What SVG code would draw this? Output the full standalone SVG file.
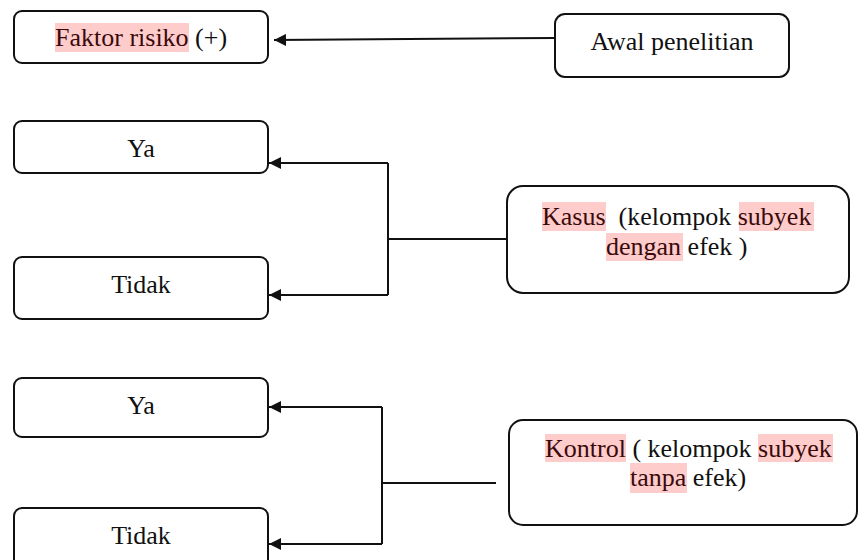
<svg xmlns="http://www.w3.org/2000/svg" width="858" height="560" viewBox="0 0 858 560">
<style>
  .box { fill: #fff; stroke: #111; stroke-width: 2; }
  text { font-family: 'Liberation Serif', Tinos, Times, 'DejaVu Serif', serif; font-size: 26px; fill: #111; }
  .mid { text-anchor: middle; }
  .hl { fill: #ffcccc; }
  .ht { fill: #3a0a0a; }
  .conn path { fill: none; stroke: #111; stroke-width: 2; }
</style>
<defs>
  <marker id="arr" markerUnits="userSpaceOnUse" markerWidth="13" markerHeight="12" refX="12" refY="6" orient="auto">
    <path d="M0,0 L12,6 L0,12 z" fill="#111"/>
  </marker>
</defs>

<g id="connectors" class="conn">
  <path d="M555,38 L274,40" marker-end="url(#arr)"/>
  <path d="M507,239 H388"/>
  <path d="M388,163 V295"/>
  <path d="M388,163 H269" marker-end="url(#arr)"/>
  <path d="M388,295 H269" marker-end="url(#arr)"/>
  <path d="M496,483 H382"/>
  <path d="M382,407 V544"/>
  <path d="M382,407 H269" marker-end="url(#arr)"/>
  <path d="M382,544 H269" marker-end="url(#arr)"/>
</g>

<g id="faktor">
  <rect class="box" x="14" y="11" width="254" height="52" rx="8"/>
  <rect class="hl" x="55" y="23" width="134" height="29"/>
  <text x="55" y="46"><tspan class="ht">Faktor risiko</tspan> (+)</text>
</g>

<g id="awal">
  <rect class="box" x="555" y="14" width="234" height="63" rx="10"/>
  <text class="mid" x="672" y="50">Awal penelitian</text>
</g>

<g id="ya1">
  <rect class="box" x="14" y="121" width="254" height="52" rx="8"/>
  <text class="mid" x="141" y="157">Ya</text>
</g>

<g id="tidak1">
  <rect class="box" x="14" y="257" width="254" height="62" rx="8"/>
  <text class="mid" x="141" y="293">Tidak</text>
</g>

<g id="kasus">
  <rect class="box" x="507" y="186" width="342" height="107" rx="16"/>
  <rect class="hl" x="542" y="202" width="64" height="29"/>
  <rect class="hl" x="739" y="202" width="75" height="29"/>
  <rect class="hl" x="606" y="233" width="77" height="28"/>
  <text x="542" y="225" xml:space="preserve"><tspan class="ht">Kasus</tspan>  (kelompok <tspan class="ht">subyek</tspan></text>
  <text x="606" y="255"><tspan class="ht">dengan</tspan> efek )</text>
</g>

<g id="ya2">
  <rect class="box" x="14" y="378" width="254" height="59" rx="8"/>
  <text class="mid" x="141" y="414">Ya</text>
</g>

<g id="tidak2">
  <rect class="box" x="14" y="508" width="254" height="62" rx="8"/>
  <text class="mid" x="141" y="544">Tidak</text>
</g>

<g id="kontrol">
  <rect class="box" x="509" y="420" width="348" height="105" rx="14"/>
  <rect class="hl" x="545" y="434" width="81" height="28"/>
  <rect class="hl" x="758" y="434" width="75" height="28"/>
  <rect class="hl" x="630" y="463" width="57" height="30"/>
  <text x="545" y="457"><tspan class="ht">Kontrol</tspan> ( kelompok <tspan class="ht">subyek</tspan></text>
  <text x="630" y="486"><tspan class="ht">tanpa</tspan> efek)</text>
</g>
</svg>
